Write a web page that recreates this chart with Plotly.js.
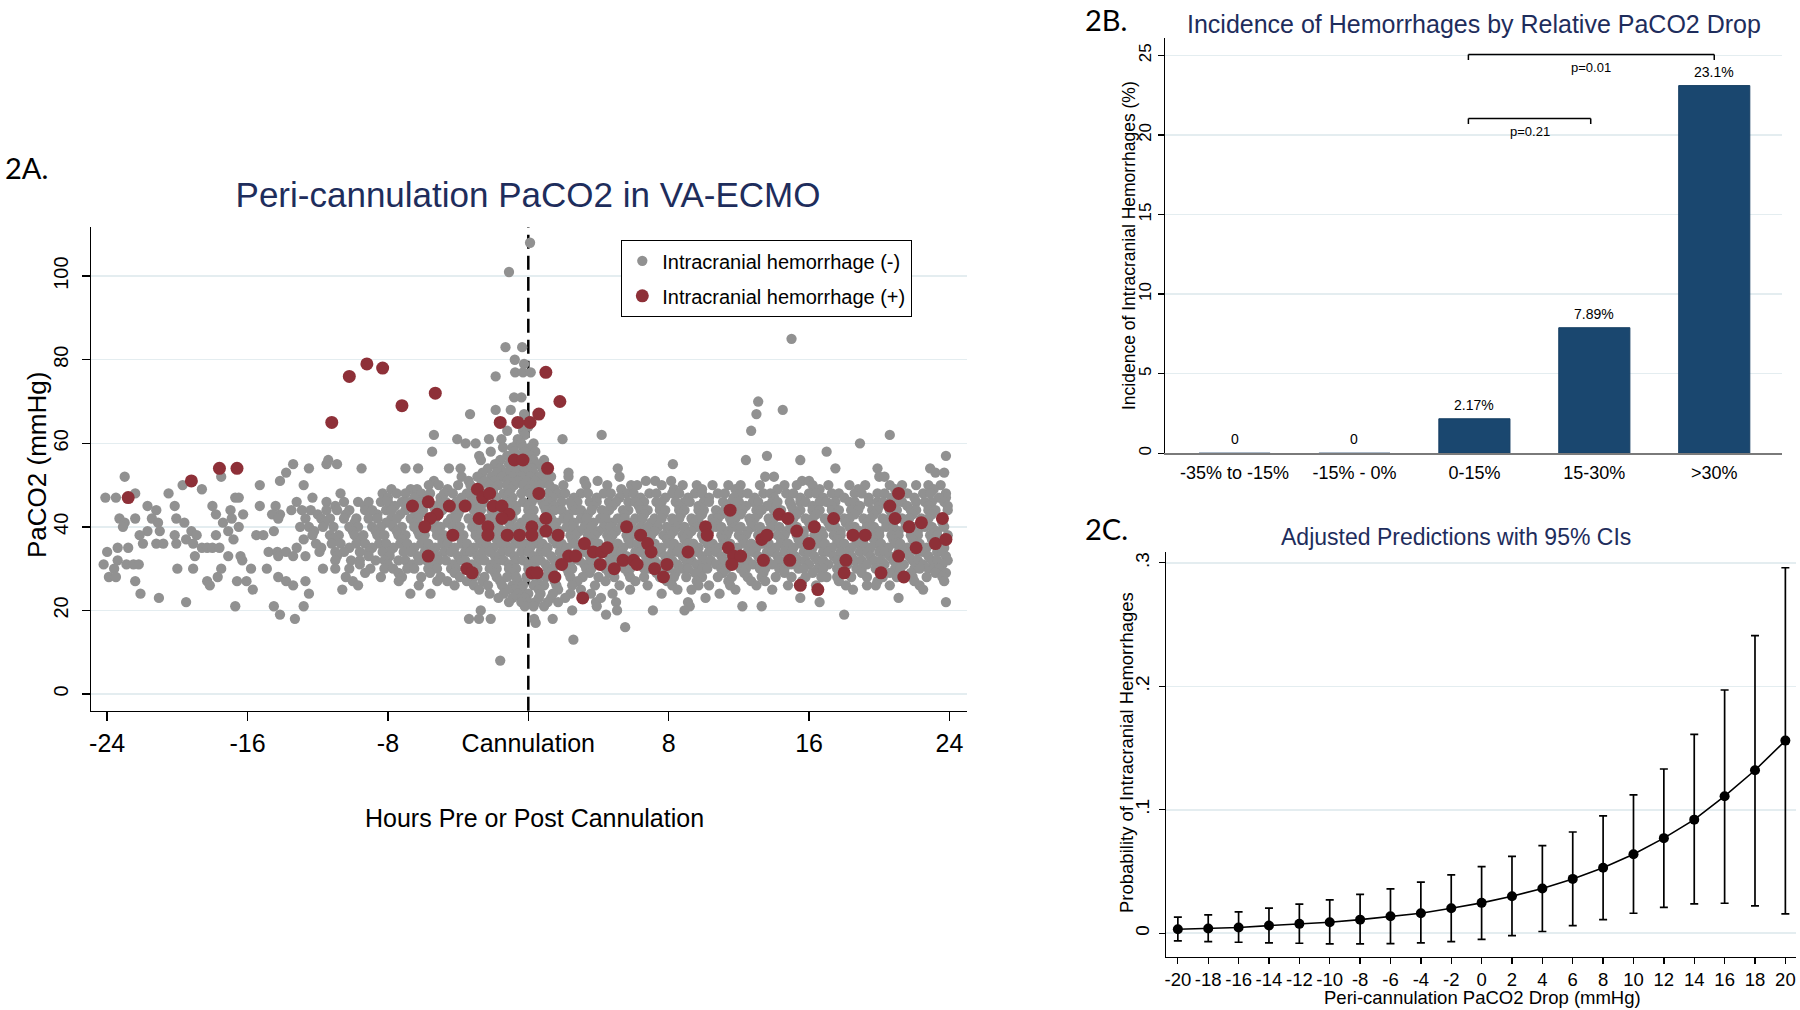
<!DOCTYPE html>
<html>
<head>
<meta charset="utf-8">
<script src="https://cdn.plot.ly/plotly-3.0.1.min.js"></script>
<style>html,body{margin:0;padding:0;background:#fff}#chart{width:1800px;height:1010px}</style>
</head>
<body>
<div id="chart"></div>
<script>
// ---------- Panel 2A data: PaCO2 (mmHg) levels and the hours at which each level was observed ----------
// Intracranial hemorrhage (-)
const negLevels = [108,101,85,83,80,79,77,76,71,70,68,67,65,64,63,62,61,60,59,58,57,56,55,54,53,52,51,50,49,48,47,46,45,44,43,42,41,40,39,38,37,36,35,34,33,32,31,30,29,28,27,26,25,24,23,22,21,20,19,18,17,16,13,8];
const negHoursByLevel = [
/*108*/[0.1],
/*101*/[-1.1],
/*85*/[15.0],
/*83*/[-1.3,-0.35],
/*80*/[-0.77],
/*79*/[-0.24],
/*77*/[-0.75,-0.3,0.14],
/*76*/[-1.86],
/*71*/[-0.81,-0.39],
/*70*/[13.1],
/*68*/[-1.86,-1.0,14.5],
/*67*/[-3.32,-0.24,13.0],
/*65*/[-0.5],
/*64*/[0.0],
/*63*/[-1.2,-0.3,12.7],
/*62*/[-5.38,4.18,-0.2,20.6],
/*61*/[-4.05,-2.24,-1.53,1.95,-0.6],
/*60*/[-3.57,-3.0,-0.62,-0.4,0.3,18.9],
/*59*/[-1.44,0.14,-0.9,-0.3],
/*58*/[-5.48,-2.14,-0.8,-0.2,0.4,17.0],
/*57*/[-2.8,-1.2,-0.5,0.1,13.6,23.8],
/*56*/[-11.4,-2.7,0.9,-1.6,-0.9,-0.3,0.3,12.4,15.5],
/*55*/[-13.4,-11.5,-10.9,8.24,-1.9,-1.1,-0.5,0.0,0.5],
/*54*/[-12.5,-9.5,-7.0,-6.28,-4.52,-3.86,5.1,-2.3,-1.6,-0.9,-0.4,0.2,0.8,17.5,19.9,22.9],
/*53*/[-13.8,2.29,23.2,23.7,-2.6,-1.8,-1.3,-0.7,-0.2,0.3,0.9],
/*52*/[-23.0,-17.5,2.29,5.2,20.0,20.3,13.5,14.0,-3.8,-2.9,-2.1,-1.5,-0.9,-0.4,0.1,0.6,1.3],
/*51*/[-14.15,-5.38,3.2,3.95,6.7,7.23,8.14,15.6,16.0,-3.4,-2.5,-1.9,-1.2,-0.6,-0.1,0.4,1.0],
/*50*/[-19.7,-15.3,-12.8,-5.67,4.5,5.86,-5.1,-4.0,-3.3,-2.7,-2.2,-1.7,-1.2,-0.8,-0.3,0.2,0.7,1.2,2.0,3.3,6.2,7.6,8.8,9.6,10.5,11.4,12.1,13.2,14.6,15.3,16.2,17.1,18.3,19.2,20.6,21.3,22.1,22.8,23.5],
/*49*/[-18.6,-6.7,-6.34,-7.8,-4.6,-3.0,-2.0,-1.0,0.0,1.5,5.3,8.3,9.9,11.8,14.2,16.6,18.8,20.9,23.1],
/*48*/[-22.4,-20.5,-10.7,-8.3,-7.5,-7.0,-6.1,-5.6,-4.8,-4.3,-3.5,-3.1,-2.4,-2.0,-1.4,-1.1,-0.4,0.1,0.6,1.1,1.7,2.1,3.0,3.4,4.3,4.7,5.6,6.0,6.9,7.3,8.2,8.6,9.5,9.9,10.8,11.2,12.1,12.5,13.4,13.8,14.7,15.1,16.0,16.4,17.3,17.7,18.6,19.0,19.9,20.3,21.2,21.6,22.5,22.9,23.8],
/*47*/[-24.1,-23.5,-16.7,-16.5,-12.3,23.8,-8.0,-6.5,-5.0,-3.8,-2.8,-1.8,-0.9,0.4,1.4,2.6,3.9,5.2,6.4,7.8,9.1,10.3,11.7,12.9,14.0,15.5,16.8,18.0,19.4,20.7,22.0,23.4],
/*46*/[-13.2,-11.5,-10.5,-9.7,-9.1,-8.4,-8.0,-7.2,-6.9,-6.1,-5.8,-5.0,-4.7,-4.1,-3.3,-2.9,-2.5,-1.8,-1.3,-1.0,-0.3,0.2,0.8,1.2,1.9,2.4,2.8,3.5,3.9,4.6,5.0,5.7,6.1,6.6,7.3,7.6,8.4,8.9,9.2,10.0,10.3,11.1,11.6,12.0,12.8,13.1,13.9,14.2,14.9,15.5,15.8,16.6,17.0,17.5,18.3,18.6,19.4,19.9,20.2,21.0,21.3,22.1,22.6,23.0,23.7],
/*45*/[-21.7,-20.15,-18.0,-15.3,-14.4,-11.0,-9.3,-7.6,-6.4,-5.4,-4.4,-3.6,-2.7,-2.1,-1.5,-0.7,0.0,0.9,1.5,2.5,3.7,4.8,6.3,7.5,8.6,9.7,11.3,12.4,13.6,15.0,16.2,17.3,18.9,20.0,21.6,22.8,23.9],
/*44*/[-21.2,-16.97,-13.5,-12.9,-12.4,-11.5,-10.9,-10.2,-9.3,-8.9,-8.1,-7.8,-7.0,-6.5,-6.0,-5.3,-4.9,-4.2,-3.9,-3.1,-2.7,-2.1,-1.7,-1.1,-0.7,0.0,0.3,1.0,1.5,1.9,2.7,3.0,3.6,4.2,4.6,5.4,5.7,6.4,6.8,7.5,7.8,8.6,8.9,9.7,10.0,10.7,11.2,11.8,12.2,13.0,13.3,14.0,14.4,15.1,15.5,16.2,16.6,17.3,17.7,18.4,18.8,19.6,19.9,20.6,21.0,21.8,22.1,22.8,23.2,23.9],
/*43*/[-17.8,-16.25,-14.15,-14.6,-12.0,-10.4,-8.6,-7.3,-6.2,-5.1,-4.0,-2.9,-1.9,-0.9,0.1,1.2,2.3,3.4,4.4,5.5,6.6,7.7,8.7,9.9,11.0,12.1,13.1,14.3,15.3,16.4,17.5,18.6,19.7,20.8,21.9,23.0],
/*42*/[-23.3,-22.4,-21.45,-20.06,-16.9,-14.25,-12.7,-11.8,-11.3,-10.5,-9.8,-9.1,-8.6,-7.8,-7.5,-6.7,-6.3,-5.6,-5.3,-4.4,-4.1,-3.4,-3.0,-2.3,-1.9,-1.2,-0.9,-0.1,0.3,1.0,1.3,2.0,2.3,3.0,3.3,4.1,4.4,5.1,5.5,6.1,6.5,7.2,7.6,8.2,8.6,9.3,9.7,10.5,10.8,11.5,11.8,12.6,12.9,13.7,14.0,14.7,15.1,15.8,16.2,16.9,17.3,18.0,18.3,19.1,19.5,20.2,20.6,21.3,21.7,22.4,22.8,23.6],
/*41*/[-23.0,-21.1,-19.6,-17.4,-11.6,-9.9,-8.1,-6.5,-5.4,-4.6,-3.1,-2.1,-1.1,-0.4,0.6,1.6,2.6,3.7,4.8,5.9,7.0,8.3,9.4,10.6,11.6,12.7,13.8,14.9,16.0,17.1,18.1,19.3,20.4,21.5,22.6,23.6],
/*40*/[-23.1,-16.5,-13.0,-12.5,-11.7,-11.1,-10.2,-9.7,-8.9,-8.4,-7.7,-7.2,-6.5,-6.1,-5.4,-5.0,-4.3,-3.9,-3.2,-2.8,-2.2,-1.7,-1.0,-0.6,0.1,0.5,1.2,1.5,2.2,2.6,3.2,3.6,4.3,4.7,5.3,5.8,6.4,6.8,7.4,7.9,8.5,8.9,9.6,10.0,10.7,11.0,11.8,12.1,12.8,13.2,13.9,14.3,15.0,15.3,16.1,16.4,17.2,17.5,18.3,18.6,19.3,19.7,20.4,20.8,21.5,21.9,22.6,23.0,23.7],
/*39*/[-21.7,-21.0,-19.2,-17.1,-14.5,-12.2,-10.0,-8.7,-7.5,-6.3,-5.2,-4.2,-3.0,-2.0,-1.4,-0.3,0.8,1.8,2.9,4.0,5.0,6.1,7.2,8.3,9.3,10.3,11.4,12.5,13.6,14.7,15.7,16.7,17.8,18.9,20.0,21.1,22.2,23.3],
/*38*/[-22.15,-20.15,-18.9,-17.8,-15.5,-15.1,-12.3,-11.3,-10.8,-9.9,-9.4,-8.6,-8.2,-7.4,-7.0,-6.2,-5.9,-5.2,-4.8,-4.1,-3.7,-3.0,-2.7,-1.9,-1.6,-0.8,-0.5,0.3,0.6,1.3,1.7,2.4,2.7,3.4,3.8,4.5,4.8,5.6,5.9,6.6,7.0,7.7,8.1,8.8,9.1,9.9,10.2,11.0,11.3,12.0,12.4,13.1,13.4,14.2,14.6,15.3,15.7,16.3,16.8,17.4,17.8,18.6,18.9,19.6,20.0,20.7,21.1,21.8,22.2,22.9,23.3,23.9],
/*37*/[-19.5,-16.8,-12.8,-11.1,-9.5,-7.2,-6.0,-4.9,-3.8,-2.8,-1.8,-0.8,0.3,1.4,2.5,3.6,4.6,5.7,6.8,7.9,8.9,10.0,11.1,12.2,13.3,14.4,15.4,16.5,17.6,18.7,19.7,20.8,21.9,23.0],
/*36*/[-21.96,-21.2,-20.8,-20.06,-19.1,-12.1,-11.2,-10.7,-9.8,-9.3,-8.5,-8.1,-7.3,-6.9,-6.1,-5.7,-4.9,-4.6,-3.8,-3.5,-2.7,-2.4,-1.7,-1.3,-0.6,-0.2,0.5,0.8,1.6,1.9,2.6,3.0,3.7,4.0,4.8,5.1,5.8,6.2,6.9,7.2,8.0,8.3,9.1,9.4,10.2,10.5,11.2,11.5,12.3,12.7,13.3,13.7,14.4,14.8,15.5,15.9,16.6,16.9,17.6,18.0,18.7,19.1,19.8,20.1,20.9,21.2,22.0,22.3,23.1,23.4],
/*35*/[-23.4,-22.8,-18.6,-18.3,-18.0,-17.6,-13.2,-11.8,-10.2,-8.9,-7.7,-6.5,-5.3,-4.2,-3.1,-2.0,-1.0,0.1,1.1,2.2,3.3,4.4,5.4,6.5,7.6,8.6,9.7,10.8,11.9,13.0,14.1,15.1,16.2,17.3,18.4,19.5,20.5,21.6,22.7,23.7],
/*34*/[-24.0,-14.8,-14.3,-13.8,-11.9,-11.0,-10.5,-9.6,-9.1,-8.3,-7.9,-7.1,-6.7,-5.9,-5.5,-4.8,-4.4,-3.6,-3.3,-2.6,-2.2,-1.5,-1.1,-0.4,0.0,0.7,1.0,1.8,2.1,2.8,3.2,3.9,4.2,5.0,5.3,6.1,6.4,7.1,7.5,8.2,8.5,9.3,9.6,10.3,10.7,11.4,11.7,12.5,12.8,13.6,13.9,14.6,15.0,15.7,16.0,16.8,17.1,17.8,18.2,18.9,19.3,20.0,20.3,21.1,21.4,22.2,22.5,23.3,23.6],
/*33*/[-19.0,-17.1,-16.4,-14.25,-13.4,-12.7,-10.9,-9.1,-7.9,-6.3,-5.2,-4.0,-2.9,-1.9,-0.8,0.3,1.3,2.4,3.5,4.6,5.6,6.7,7.8,8.8,9.9,11.0,12.0,13.1,14.2,15.2,16.3,17.4,18.4,19.5,20.6,21.7,22.8,23.8],
/*32*/[-23.4,-16.3,-11.0,-10.1,-9.6,-8.7,-8.2,-7.4,-7.0,-6.2,-5.8,-5.1,-4.7,-3.9,-3.6,-2.8,-2.5,-1.7,-1.4,-0.7,-0.3,0.4,0.7,1.5,1.8,2.5,2.9,3.6,3.9,4.7,5.0,5.7,6.1,6.8,7.2,7.9,8.2,9.0,9.3,10.0,10.4,11.1,11.5,12.2,12.5,13.3,13.6,14.3,14.7,15.4,15.8,16.5,16.8,17.6,17.9,18.6,19.0,19.7,20.1,20.8,21.1,21.9,22.2,23.0,23.3,23.9],
/*31*/[-24.2,-22.9,-22.5,-22.2,-9.6,-8.0,-6.6,-5.5,-4.3,-3.2,-2.1,-1.1,0.0,1.0,2.1,3.2,4.3,5.3,6.4,7.5,8.5,9.6,10.7,11.8,12.8,13.9,15.0,16.0,17.1,18.2,19.3,20.3,21.4,22.5,23.6],
/*30*/[-23.6,-20.0,-19.1,-17.5,-15.8,-14.9,-11.7,-11.0,-10.2,22.8,-9.0,-8.2,-7.7,-6.9,-6.5,-5.7,-5.2,-4.4,-4.1,-3.3,-2.9,-2.2,-1.8,-1.1,-0.7,0.0,0.4,1.1,1.4,2.2,2.5,3.3,3.6,4.4,4.7,5.5,5.8,6.6,6.9,7.7,8.0,8.8,9.1,9.9,10.2,11.0,11.3,12.1,12.4,13.2,13.5,14.3,14.6,15.4,15.7,16.5,16.8,17.6,17.9,18.7,19.0,19.8,20.1,20.9,21.2,22.0,22.3,23.1,23.4],
/*29*/[-9.3,23.8,-7.4,-5.6,-4.2,-3.0,-1.9,-0.9,0.2,1.2,2.3,3.5,4.6,5.7,7.3,8.4,9.5,11.1,12.3,13.4,14.6,16.2,17.8,19.0,20.6,21.8,23.2],
/*28*/[-23.9,-23.5,-17.7,-14.25,-10.4,-8.4,17.0,-7.2,-6.1,-5.0,-3.9,-3.1,-2.5,-1.8,-1.2,-0.7,-0.1,0.4,1.0,1.6,2.4,3.1,4.0,4.9,5.8,6.6,7.5,8.3,9.0,9.9,10.8,11.6,12.5,13.3,14.1,15.0,15.8,16.7,17.6,18.4,19.3,20.2,21.0,21.9,22.7,23.6],
/*27*/[-22.4,-18.3,-16.6,-16.06,-13.8,-12.7,-10.0,-7.38,-5.19,-4.62,12.7,-3.5,-2.6,-1.6,-0.6,0.5,1.5,2.8,4.4,6.1,7.9,9.6,11.4,13.5,15.6,17.7,19.9,22.0,23.7],
/*26*/[-18.15,-13.4,-9.7,-6.24,10.3,19.3,19.8,-4.2,-3.1,-2.3,-1.5,-0.9,-0.3,0.3,0.9,1.6,2.5,3.8,5.2,6.8,8.2,9.7,11.5,13.0,14.8,16.4,18.1,20.6,22.3],
/*25*/[-15.7,-10.6,-0.8,8.5,11.8,22.5,-2.8,-1.2,-0.4,0.6,1.7,3.0,5.8,9.3,13.9,18.5],
/*24*/[-22.1,-12.5,-6.72,-5.57,3.57,10.9,-2.2,-1.4,-0.6,0.0,0.7,1.4,2.4,4.8,7.6],
/*23*/[-21.05,4.14,-0.4,10.1,15.5,21.1,-1.7,-0.9,-0.2,0.6,1.3,2.1],
/*22*/[-19.5,3.86,1.7,5.0,0.0,9.1,16.6,23.8,-1.1,-0.4,0.4,1.1],
/*21*/[-16.7,-14.5,-12.8,-0.2,0.3,0.9,3.9,12.2,13.3,9.2],
/*20*/[-2.71,2.5,5.06,7.1,8.9],
/*19*/[-14.15,4.43,18.0],
/*18*/[-13.3,-3.38,-2.81,-2.14,0.33,1.39],
/*17*/[0.42],
/*16*/[5.52],
/*13*/[2.57],
/*8*/[-1.6]
];
// Intracranial hemorrhage (+)
const posHours = [-22.8,-19.2,-17.6,-16.6,-11.2,-10.2,-9.2,-8.3,-7.2,-5.3,1.0,1.8,0.6,0.1,-0.6,-1.6,-0.8,-0.3,1.1,0.6,-2.9,-2.6,-2.2,-6.6,-5.7,-4.5,-3.6,-2.0,-1.5,-1.1,-1.5,-5.2,-5.6,-5.9,-2.8,-2.3,-2.3,-4.3,-1.2,-0.5,0.2,0.2,1.0,1.0,1.7,-5.7,-3.5,-3.2,0.2,0.5,1.5,3.1,3.2,3.7,4.2,4.5,2.3,2.7,1.9,4.1,4.9,5.4,6.0,6.2,5.6,6.4,6.8,7.0,7.2,7.7,7.9,9.1,10.1,10.2,11.5,11.4,11.7,12.1,11.6,13.3,13.6,13.4,14.3,14.8,15.3,16.0,16.3,14.9,15.5,16.5,17.4,18.5,19.2,18.1,18.0,20.1,20.6,21.1,20.9,21.7,22.4,22.1,21.1,21.4,23.6,23.2,23.8];
const posPaCO2 = [47,51,54,54,65,76,79,78,69,72,77,70,67,65,65,65,56,56,54,48,49,47,48,45,46,45,45,45,45,43,42,43,42,40,42,40,38,38,38,38,40,38,42,39,38,33,30,29,29,29,28,23,36,34,34,35,33,33,31,31,30,32,32,31,40,38,36,34,30,28,31,34,40,38,44,35,33,33,31,37,38,32,43,42,39,36,40,32,26,25,42,38,38,32,29,29,45,48,42,40,41,35,33,28,42,36,37];
const aTickVals = [-24,-16,-8,0,8,16,24];
const aTickText = ['-24','-16','-8','Cannulation','8','16','24'];
const aYTicks = [0,20,40,60,80,100];

// ---------- Panel 2B data ----------
const bCats = ['-35% to -15%','-15% - 0%','0-15%','15-30%','>30%'];
const bValues = [0,0,2.17,7.89,23.1];
const bLabels = ['0','0','2.17%','7.89%','23.1%'];
const bYTicks = [0,5,10,15,20,25];
const pText = ['p=0.21','p=0.01'];
const pFrom = [1.95,1.95];     // bracket start (category index)
const pTo = [2.97,4.0];        // bracket end (category index)
const pLevel = [21.04,25.06];  // bracket height (%)

// ---------- Panel 2C data ----------
const cDrop = [-20,-18,-16,-14,-12,-10,-8,-6,-4,-2,0,2,4,6,8,10,12,14,16,18,20];
const cPred = [.0032,.0038,.0046,.0062,.0076,.0089,.011,.0138,.0162,.0203,.0246,.030,.0362,.044,.053,.064,.077,.092,.111,.132,.156];
const cUpper = [.013,.0149,.0173,.0203,.0235,.027,.0314,.036,.0414,.0473,.054,.0622,.071,.082,.095,.112,.133,.161,.197,.241,.296];
const cLower = [-.0062,-.0068,-.0073,-.0078,-.0081,-.0086,-.0086,-.0084,-.0078,-.0068,-.0049,-.0019,.0014,.0062,.011,.0162,.021,.0238,.0243,.0222,.0157];
const cYTicks = [0,.1,.2,.3];
const cYText = ['0','.1','.2','.3'];

// ---------- build ----------
const W = 1800, H = 1010;
const px = v => v / W;
const py = v => 1 - v / H;
const F = 'Arial, "Liberation Sans", Helvetica, sans-serif';
const NAVY = '#1e2d5c';
const GRID = '#e4edf0';

const negX = [], negY = [];
negLevels.forEach((lvl, i) => negHoursByLevel[i].forEach(h => { negX.push(h); negY.push(lvl); }));

const traces = [
  {type:'scatter', mode:'markers', x:negX, y:negY, xaxis:'x', yaxis:'y',
   name:'Intracranial hemorrhage (-)', legendgroup:'neg',
   marker:{size:10.3, color:'#919191', line:{width:0}}, hoverinfo:'skip'},
  {type:'scatter', mode:'markers', x:posHours, y:posPaCO2, xaxis:'x', yaxis:'y',
   name:'Intracranial hemorrhage (+)', legendgroup:'pos',
   marker:{size:13, color:'#8e3038', line:{width:0}}, hoverinfo:'skip'},
  {type:'bar', x:bCats, y:bValues, xaxis:'x2', yaxis:'y2', showlegend:false,
   marker:{color:'#1a476f', line:{color:'#173f63', width:1}}, hoverinfo:'skip'},
  {type:'scatter', mode:'lines+markers', x:cDrop, y:cPred, xaxis:'x3', yaxis:'y3', showlegend:false,
   line:{color:'#000', width:1.6}, marker:{size:10, color:'#000'},
   error_y:{type:'data', symmetric:false,
            array:cUpper.map((u,i)=>u-cPred[i]), arrayminus:cPred.map((p,i)=>p-cLower[i]),
            color:'#000', thickness:1.7, width:4},
   hoverinfo:'skip'}
];

const ann = [];
const addText = (text, x, y, size, opts) => ann.push(Object.assign({
  text:text, xref:'paper', yref:'paper', x:px(x), y:py(y), showarrow:false,
  xanchor:'center', yanchor:'middle', font:{family:F, size:size, color:'#000'}
}, opts || {}));

// panel labels
const LBL = {family:'Lato, "Open Sans", sans-serif', size:29, color:'#000'};
addText('2A.', 3, 167, 29, {xanchor:'left', font:LBL});
addText('2B.', 1083, 0, 29, {xanchor:'left', yanchor:'top', font:LBL});
addText('2C.', 1083, 528, 29, {xanchor:'left', font:LBL});
// panel titles
addText('Incidence of Hemorrhages by Relative PaCO2 Drop', 1474, 24, 25, {font:{family:F, size:25, color:NAVY}});
addText('Adjusted Predictions with 95% CIs', 1456, 537, 23, {font:{family:F, size:23, color:NAVY}});
// axis titles
addText('Hours Pre or Post Cannulation', 534, 818, 25);
addText('PaCO2 (mmHg)', 37, 465, 26, {textangle:-90});
addText('Incidence of Intracranial Hemorrhages (%)', 1129, 246, 17.5, {textangle:-90});
addText('Peri-cannulation PaCO2 Drop (mmHg)', 1482, 997, 18.5);
addText('Probability of Intracranial Hemorrhages', 1126, 753, 18.5, {textangle:-90});
// bar value labels
bCats.forEach((c, i) => ann.push({text:bLabels[i], xref:'x2', yref:'y2', x:c, y:bValues[i],
  yanchor:'bottom', yshift:4, showarrow:false, font:{family:F, size:14, color:'#000'}}));
// p-value labels
pText.forEach((t, i) => ann.push({text:t, xref:'x2', yref:'y2', x:(pFrom[i]+pTo[i])/2, y:pLevel[i],
  yanchor:'top', yshift:-4, showarrow:false, font:{family:F, size:13, color:'#000'}}));

const shapes = [
  {type:'line', xref:'x', yref:'y domain', x0:0, x1:0, y0:0, y1:1, layer:'below',
   line:{color:'#000', width:2.5, dash:'14px,7px'}}
];
pText.forEach((t, i) => {
  const L = {color:'#000', width:1.5};
  const drop = 0.35;
  shapes.push({type:'line', xref:'x2', yref:'y2', x0:pFrom[i], x1:pTo[i], y0:pLevel[i], y1:pLevel[i], line:L});
  shapes.push({type:'line', xref:'x2', yref:'y2', x0:pFrom[i], x1:pFrom[i], y0:pLevel[i], y1:pLevel[i]-drop, line:L});
  shapes.push({type:'line', xref:'x2', yref:'y2', x0:pTo[i], x1:pTo[i], y0:pLevel[i], y1:pLevel[i]-drop, line:L});
});

const baseAxis = {zeroline:false, showline:true, linecolor:'#000', tickcolor:'#000', gridcolor:GRID, gridwidth:1.5};

const layout = {
  width:W, height:H, margin:{l:0, r:0, t:0, b:0},
  paper_bgcolor:'#fff', plot_bgcolor:'#fff',
  font:{family:F, color:'#000'},
  title:{text:'Peri-cannulation PaCO2 in VA-ECMO', x:px(528), y:py(195), xref:'paper', yref:'paper',
         xanchor:'center', yanchor:'middle', font:{family:F, size:35, color:NAVY}},
  showlegend:true,
  legend:{x:px(621), y:py(240), xanchor:'left', yanchor:'top', bgcolor:'#fff',
          bordercolor:'#000', borderwidth:1.3, font:{family:F, size:20, color:'#000'},
          tracegroupgap:6},
  bargap:0.407,
  xaxis:Object.assign({}, baseAxis, {domain:[px(91), px(967)], anchor:'y', range:[-24.92, 25.0],
    tickmode:'array', tickvals:aTickVals, ticktext:aTickText, ticks:'outside', ticklen:9, tickwidth:1.5,
    linewidth:1.5, showgrid:false, tickangle:0, tickfont:{size:25}, ticklabelstandoff:1}),
  yaxis:Object.assign({}, baseAxis, {domain:[py(710.7), py(227.3)], anchor:'x', range:[-4.0, 111.7],
    tickmode:'array', tickvals:aYTicks, ticks:'outside', ticklen:8, tickwidth:1.5, linewidth:1.5,
    showgrid:true, tickangle:-90, tickfont:{size:20}, ticklabelstandoff:6}),
  xaxis2:Object.assign({}, baseAxis, {domain:[px(1165), px(1782)], anchor:'y2', type:'category',
    range:[-0.58, 4.565], ticks:'', linecolor:'#7a7a7a', linewidth:2, showgrid:false, tickangle:0,
    tickfont:{size:18}, ticklabelstandoff:2}),
  yaxis2:Object.assign({}, baseAxis, {domain:[py(453.3), py(38)], anchor:'x2', range:[0, 26.09],
    tickmode:'array', tickvals:bYTicks, ticks:'outside', ticklen:6, tickwidth:1.3, linewidth:1.3,
    showgrid:true, tickangle:-90, tickfont:{size:17}}),
  xaxis3:Object.assign({}, baseAxis, {domain:[px(1166), px(1796)], anchor:'y3', range:[-20.78, 20.7],
    tickmode:'array', tickvals:cDrop, ticktext:cDrop.map(String), ticks:'outside', ticklen:6, tickwidth:1.3, linewidth:1.3,
    showgrid:false, tickangle:0, tickfont:{size:18.5}, ticklabelstandoff:0}),
  yaxis3:Object.assign({}, baseAxis, {domain:[py(956.7), py(551.7)], anchor:'x3', range:[-0.019, 0.309],
    tickmode:'array', tickvals:cYTicks, ticktext:cYText, ticks:'outside', ticklen:6, tickwidth:1.3,
    linewidth:1.3, showgrid:true, tickangle:-90, tickfont:{size:19}, ticklabelstandoff:2}),
  annotations:ann,
  shapes:shapes
};

Plotly.newPlot('chart', traces, layout, {staticPlot:true, displayModeBar:false});
</script>
</body>
</html>
